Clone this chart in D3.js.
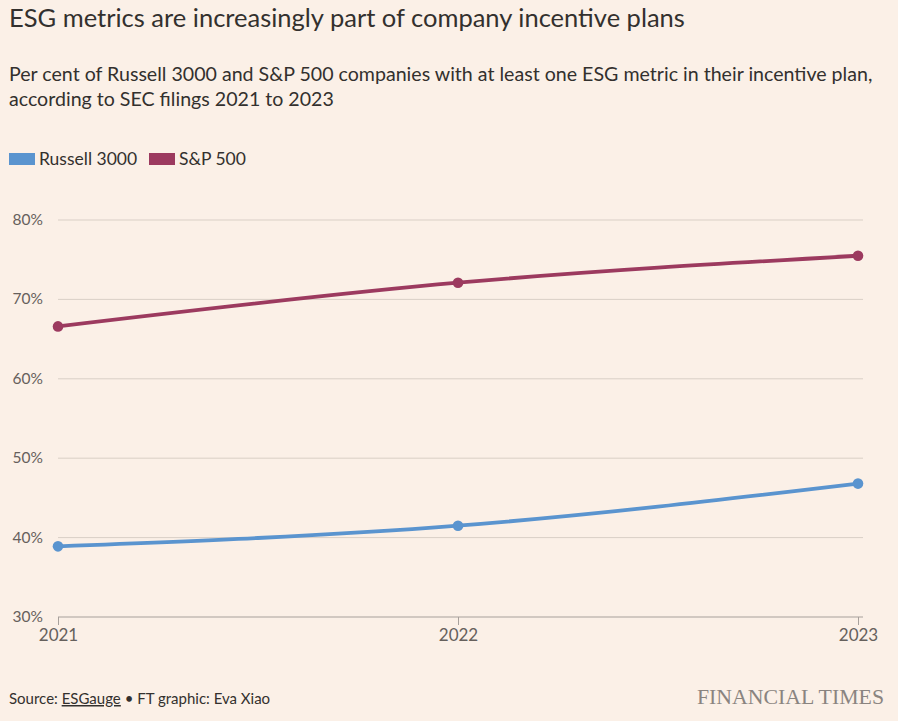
<!DOCTYPE html>
<html>
<head>
<meta charset="utf-8">
<script src="https://cdn.jsdelivr.net/npm/d3@7"></script>
<style>
  body { margin: 0; background: #fbf0e7; }
  svg { display: block; font-family: Lato, "Noto Sans", sans-serif; }
</style>
</head>
<body>
<svg id="chart"></svg>
<script>
const years = [2021, 2022, 2023];
const russell = [38.9, 41.5, 46.8];
const sp500 = [66.6, 72.1, 75.5];
const yTicks = [30, 40, 50, 60, 70, 80];
const seriesNames = ['Russell 3000', 'S&P 500'];
const seriesColors = ['#5a94cf', '#9c3a5f'];

const width = 898;
const height = 721;
const margin = { top: 220, right: 40, bottom: 104, left: 58 };

const svg = d3.select('#chart')
  .attr('width', width)
  .attr('height', height);

svg.append('rect')
  .attr('width', width)
  .attr('height', height)
  .attr('fill', '#fbf0e7');

svg.append('text')
  .attr('x', 9)
  .attr('y', 27)
  .attr('fill', '#33302e')
  .style('font-size', '25.5px')
  .text('ESG metrics are increasingly part of company incentive plans');

const subtitle = [
  'Per cent of Russell 3000 and S&P 500 companies with at least one ESG metric in their incentive plan,',
  'according to SEC filings 2021 to 2023'
];
svg.append('g')
  .selectAll('text')
  .data(subtitle)
  .join('text')
  .attr('x', 9)
  .attr('y', (d, i) => 81 + i * 25)
  .attr('fill', '#33302e')
  .style('font-size', '19.6px')
  .text((d) => d);

// legend
const legend = svg.append('g')
  .selectAll('g')
  .data(seriesNames)
  .join('g')
  .attr('transform', (d, i) => `translate(${[9, 149][i]},153)`);
legend.append('rect')
  .attr('width', 26)
  .attr('height', 12)
  .attr('fill', (d, i) => seriesColors[i]);
legend.append('text')
  .attr('x', 30)
  .attr('y', 12)
  .attr('fill', '#33302e')
  .style('font-size', '17.5px')
  .text((d) => d);

const x = d3.scaleLinear()
  .domain(d3.extent(years))
  .range([margin.left, width - margin.right]);

const y = d3.scaleLinear()
  .domain([30, 80])
  .range([height - margin.bottom, margin.top]);

// gridlines
svg.append('g')
  .selectAll('line')
  .data(yTicks.slice(1))
  .join('line')
  .attr('x1', margin.left)
  .attr('x2', width - margin.right + 5)
  .attr('y1', (d) => y(d))
  .attr('y2', (d) => y(d))
  .attr('stroke', '#d9cfc6')
  .attr('stroke-width', 1);

svg.append('g')
  .selectAll('text')
  .data(yTicks)
  .join('text')
  .attr('x', 43)
  .attr('y', (d) => y(d) + 5)
  .attr('text-anchor', 'end')
  .attr('fill', '#66605c')
  .style('font-size', '15.5px')
  .text((d) => d + '%');

// x axis
const xAxis = svg.append('g')
  .attr('transform', `translate(0,${y(30)})`)
  .call(d3.axisBottom(x).tickValues(years).tickFormat(d3.format('d')).tickSize(8).tickPadding(4));
xAxis.select('.domain')
  .attr('d', `M${margin.left},0H${width - margin.right + 5}`)
  .attr('stroke', '#a7a09b');
xAxis.selectAll('.tick line').attr('stroke', '#a7a09b');
xAxis.selectAll('.tick text')
  .attr('fill', '#66605c')
  .style('font-size', '17px')
  .style('font-family', 'Lato, "Noto Sans", sans-serif');

const line = d3.line()
  .x((d, i) => x(years[i]))
  .y((d) => y(d))
  .curve(d3.curveMonotoneX);

const allSeries = [russell, sp500];
const groups = svg.append('g')
  .selectAll('g')
  .data(allSeries)
  .join('g');

groups.append('path')
  .attr('d', (d) => line(d))
  .attr('fill', 'none')
  .attr('stroke', (d, i) => seriesColors[i])
  .attr('stroke-width', 3.8);

groups.each(function (d, i) {
  d3.select(this)
    .selectAll('circle')
    .data(d)
    .join('circle')
    .attr('cx', (v, j) => x(years[j]))
    .attr('cy', (v) => y(v))
    .attr('r', 5.3)
    .attr('fill', seriesColors[i]);
});

// footer
const footer = svg.append('text')
  .attr('x', 9)
  .attr('y', 704)
  .attr('fill', '#33302e')
  .style('font-size', '15px');
footer.append('tspan').text('Source: ');
footer.append('tspan').attr('text-decoration', 'underline').text('ESGauge');
footer.append('tspan').text(' \u2022 FT graphic: Eva Xiao');

svg.append('text')
  .attr('x', 884)
  .attr('y', 704)
  .attr('text-anchor', 'end')
  .attr('fill', '#8a8480')
  .style('font-family', '"Liberation Serif", "DejaVu Serif", serif')
  .style('font-size', '21.8px')
  .text('FINANCIAL TIMES');
</script>
</body>
</html>
